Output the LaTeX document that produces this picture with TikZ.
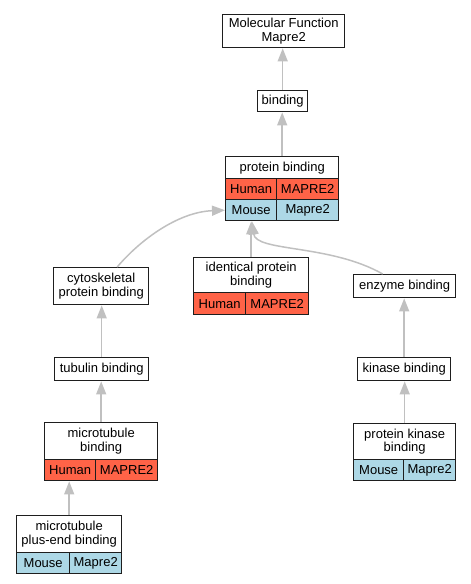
\documentclass[tikz,border=0pt]{standalone}
\usepackage{fontspec}
\setmainfont{Liberation Sans}
\usetikzlibrary{arrows.meta}
\definecolor{hum}{RGB}{255,99,71}
\definecolor{mou}{RGB}{173,216,230}
\definecolor{edgec}{RGB}{192,192,192}
\definecolor{bord}{RGB}{30,30,30}
\begin{document}
\begin{tikzpicture}[x=1pt,y=-1pt,
  box/.style={draw=bord,line width=1.4pt,fill=white,inner sep=0pt,align=center,anchor=north west,font=\fontsize{13}{13.5}\selectfont},
  hcell/.style={box,fill=hum},
  mcell/.style={box,fill=mou},
  link/.style={draw=edgec,line width=1.5pt,-{Triangle[length=13pt,width=10pt]}}]
\useasboundingbox (0,0) rectangle (471,584);
% plain boxes
\node[box,minimum width=122pt,minimum height=33pt] (mf) at (222,14) {Molecular Function\\Mapre2};
\node[box,minimum width=50pt,minimum height=21pt] (bind) at (257,90) {binding};
\node[box,minimum width=95pt,minimum height=37pt] (cyto) at (53,267) {cytoskeletal\\protein binding};
\node[box,minimum width=94pt,minimum height=23pt] (tub) at (54,357) {tubulin binding};
\node[box,minimum width=102pt,minimum height=23pt] (enz) at (353,274) {enzyme binding};
\node[box,minimum width=93pt,minimum height=23pt] (kin) at (357,357) {kinase binding};
% protein binding
\node[box,minimum width=113pt,minimum height=22pt] (pb) at (225,156) {protein binding};
\node[hcell,minimum width=51pt,minimum height=21pt] (pbh) at (225,178) {Human};
\node[hcell,minimum width=62pt,minimum height=21pt] (pbhg) at (276,178) {MAPRE2};
\node[mcell,minimum width=51pt,minimum height=21pt] (pbm) at (225,199) {Mouse};
\node[mcell,minimum width=62pt,minimum height=21pt] (pbmg) at (276,199) {Mapre2};
% identical protein binding
\node[box,minimum width=115pt,minimum height=35pt] (ide) at (193,257) {identical protein\\binding};
\node[hcell,minimum width=52pt,minimum height=22pt] (ideh) at (193,292) {Human};
\node[hcell,minimum width=63pt,minimum height=22pt] (ideg) at (245,292) {MAPRE2};
% microtubule binding
\node[box,minimum width=113pt,minimum height=37pt] (mtb) at (44,422) {microtubule\\binding};
\node[hcell,minimum width=51pt,minimum height=21pt] (mtbh) at (44,459) {Human};
\node[hcell,minimum width=62pt,minimum height=21pt] (mtbg) at (95,459) {MAPRE2};
% microtubule plus-end binding
\node[box,minimum width=105pt,minimum height=37pt] (plus) at (16,515) {microtubule\\plus-end binding};
\node[mcell,minimum width=53pt,minimum height=21pt] (plusm) at (16,552) {Mouse};
\node[mcell,minimum width=52pt,minimum height=21pt] (plusg) at (69,552) {Mapre2};
% protein kinase binding
\node[box,minimum width=102pt,minimum height=36pt] (pk) at (353,423) {protein kinase\\binding};
\node[mcell,minimum width=50pt,minimum height=21pt] (pkm) at (353,459) {Mouse};
\node[mcell,minimum width=52pt,minimum height=21pt] (pkg) at (403,459) {Mapre2};
% edges
\draw[link] (bind.north) -- (bind.north |- mf.south);
\draw[link] (pb.north) -- (pb.north |- bind.south);
\draw[link] ([xshift=16pt]cyto.north) .. controls (140,240) and (178,212) .. (pbm.west);
\draw[link] (ide.north) -- (ide.north |- pbm.south);
\draw[link] ([xshift=-22pt]enz.north) .. controls (330,244) and (256,252) .. ([xshift=-24pt]pbmg.south west);
\draw[link] (tub.north) -- (tub.north |- cyto.south);
\draw[link] (mtb.north) -- (mtb.north |- tub.south);
\draw[link] (plus.north) -- (plus.north |- mtbh.south);
\draw[link] (kin.north) -- (kin.north |- enz.south);
\draw[link] (pk.north) -- (pk.north |- kin.south);
\end{tikzpicture}
\end{document}
